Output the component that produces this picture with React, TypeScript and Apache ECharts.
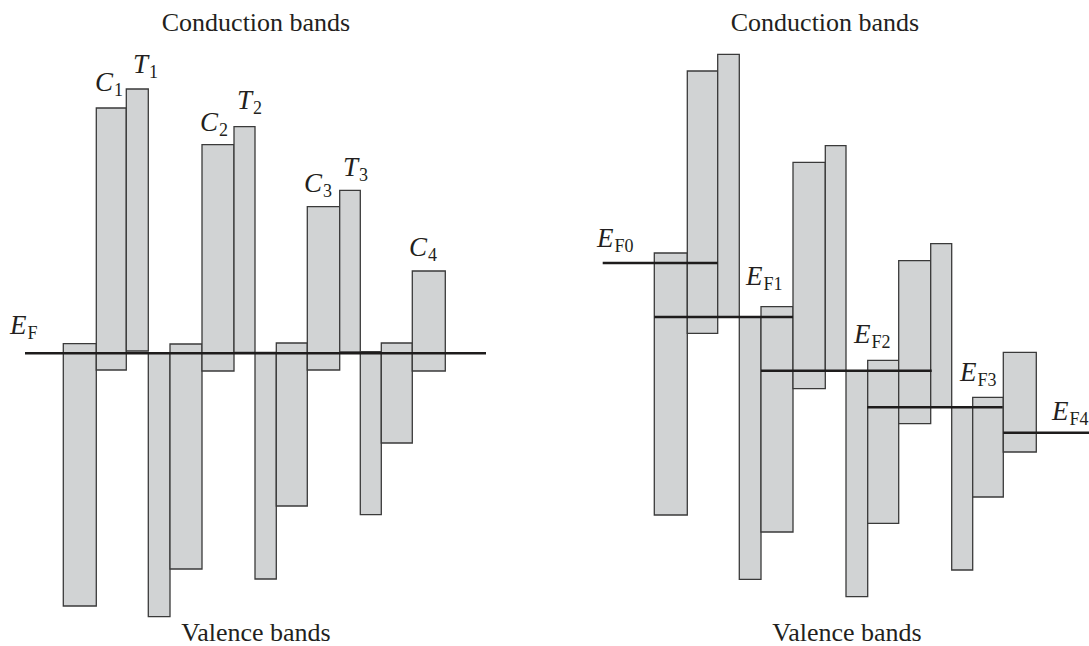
import React, { useEffect, useRef } from "react";
import * as echarts from "echarts";

// Energy (arbitrary units, Fermi level of left diagram = 0) and position (arbitrary units)
// Each band: [xStart, xEnd, topEnergy, bottomEnergy]
const leftBands: number[][] = [
  [6.33, 9.63, 0.96, -25.27],
  [9.63, 12.63, 24.53, -1.67],
  [12.63, 14.83, 26.43, 0.23],
  [14.83, 17.0, 0.0, -26.34],
  [17.0, 20.2, 0.93, -21.57],
  [20.2, 23.4, 20.86, -1.77],
  [23.4, 25.5, 22.66, 0.1],
  [25.5, 27.63, 0.1, -22.57],
  [27.63, 30.73, 1.03, -15.27],
  [30.73, 33.97, 14.66, -1.67],
  [33.97, 36.03, 16.3, 0.13],
  [36.03, 38.13, 0.16, -16.14],
  [38.13, 41.23, 1.03, -8.97],
  [41.23, 44.53, 8.23, -1.77],
];

const rightBands: number[][] = [
  [65.43, 68.73, 10.03, -16.17],
  [68.73, 71.77, 28.23, 2.0],
  [71.77, 73.93, 29.9, 3.63],
  [73.93, 76.1, 3.63, -22.6],
  [76.1, 79.3, 4.66, -17.87],
  [79.3, 82.53, 19.1, -3.54],
  [82.53, 84.6, 20.76, -1.74],
  [84.6, 86.77, -1.74, -24.34],
  [86.77, 89.87, -0.7, -17.0],
  [89.87, 93.07, 9.26, -7.04],
  [93.07, 95.17, 10.96, -5.34],
  [95.17, 97.27, -5.34, -21.67],
  [97.27, 100.33, -4.4, -14.37],
  [100.33, 103.63, 0.1, -9.87],
];

// Fermi levels: [xStart, xEnd, energy]
const fermiLevels: number[][] = [
  [2.5, 48.6, 0.0],
  [60.27, 71.77, 9.03],
  [65.43, 79.3, 3.63],
  [76.1, 93.17, -1.74],
  [86.73, 100.27, -5.4],
  [100.33, 108.9, -7.94],
];

// Label texts: [main symbol, subscript]
const labelMain: string[] = ["C", "T", "C", "T", "C", "T", "C", "E", "E", "E", "E", "E", "E"];
const labelSub: string[] = ["1", "1", "2", "2", "3", "3", "4", "F", "F0", "F1", "F2", "F3", "F4"];
// Label anchors (left x, bottom energy)
const labelX: number[] = [9.5, 13.3, 20.0, 23.7, 30.4, 34.3, 40.9, 1.0, 59.7, 74.6, 85.4, 96.0, 105.2];
const labelY: number[] = [25.43, 27.23, 21.43, 23.63, 15.33, 16.93, 8.93, 1.13, 9.83, 6.03, 0.23, -3.57, -7.47];

const titleTexts: string[] = ["Conduction bands", "Conduction bands", "Valence bands", "Valence bands"];

const SERIF = "'Liberation Serif', 'Times New Roman', serif";

export default function App() {
  const ref = useRef<HTMLDivElement>(null);

  useEffect(() => {
    if (!ref.current) return;
    const chart = echarts.init(ref.current, undefined, { renderer: "svg" });

    const bandData = [...leftBands, ...rightBands];
    const labelData = labelMain.map((m, i) => ({
      value: [labelX[i], labelY[i]],
      main: m,
      sub: labelSub[i],
    }));

    const option: any = {
      animation: false,
      backgroundColor: "#ffffff",
      grid: { left: 0, top: 3.3, width: 1089, height: 640, containLabel: false },
      xAxis: { type: "value", min: 0, max: 108.9, show: false },
      yAxis: { type: "value", min: -29, max: 35, show: false },
      graphic: [
        {
          type: "text",
          x: 256,
          y: 22,
          style: { text: titleTexts[0], font: `26px ${SERIF}`, fill: "#231f20", textAlign: "center", textVerticalAlign: "middle" },
        },
        {
          type: "text",
          x: 825,
          y: 22,
          style: { text: titleTexts[1], font: `26px ${SERIF}`, fill: "#231f20", textAlign: "center", textVerticalAlign: "middle" },
        },
        {
          type: "text",
          x: 256,
          y: 632,
          style: { text: titleTexts[2], font: `26px ${SERIF}`, fill: "#231f20", textAlign: "center", textVerticalAlign: "middle" },
        },
        {
          type: "text",
          x: 847,
          y: 632,
          style: { text: titleTexts[3], font: `26px ${SERIF}`, fill: "#231f20", textAlign: "center", textVerticalAlign: "middle" },
        },
      ],
      series: [
        {
          type: "custom",
          name: "bands",
          data: bandData,
          encode: { x: [0, 1], y: [2, 3] },
          renderItem: (params: any, api: any) => {
            const p0 = api.coord([api.value(0), api.value(2)]);
            const p1 = api.coord([api.value(1), api.value(3)]);
            return {
              type: "rect",
              shape: { x: p0[0], y: p0[1], width: p1[0] - p0[0], height: p1[1] - p0[1] },
              style: { fill: "#d1d3d4", stroke: "#3a3a3a", lineWidth: 1.3 },
            };
          },
          z: 2,
        },
        {
          type: "custom",
          name: "fermi",
          data: fermiLevels,
          encode: { x: [0, 1], y: [2] },
          renderItem: (params: any, api: any) => {
            const p0 = api.coord([api.value(0), api.value(2)]);
            const p1 = api.coord([api.value(1), api.value(2)]);
            return {
              type: "line",
              shape: { x1: p0[0], y1: p0[1], x2: p1[0], y2: p1[1] },
              style: { stroke: "#1e1c1c", lineWidth: 2.4 },
            };
          },
          z: 3,
        },
        {
          type: "custom",
          name: "labels",
          data: labelData,
          renderItem: (params: any, api: any) => {
            const d = labelData[params.dataIndex];
            const p = api.coord([api.value(0), api.value(1)]);
            return {
              type: "text",
              x: p[0],
              y: p[1],
              style: {
                text: `{m|${d.main}}{s|${d.sub}}`,
                textAlign: "left",
                textVerticalAlign: "bottom",
                fill: "#231f20",
                rich: {
                  m: {
                    fontFamily: SERIF,
                    fontStyle: "italic",
                    fontSize: 27,
                    fill: "#231f20",
                    verticalAlign: "bottom",
                    padding: [0, 1, 4, 0],
                  },
                  s: {
                    fontFamily: SERIF,
                    fontSize: 18,
                    fill: "#231f20",
                    verticalAlign: "bottom",
                  },
                },
              },
            };
          },
          z: 4,
        },
      ],
    };

    chart.setOption(option);
    return () => chart.dispose();
  }, []);

  return (
    <div
      ref={ref}
      style={{ position: "absolute", left: 0, top: 0, width: 1089, height: 646 }}
    />
  );
}
